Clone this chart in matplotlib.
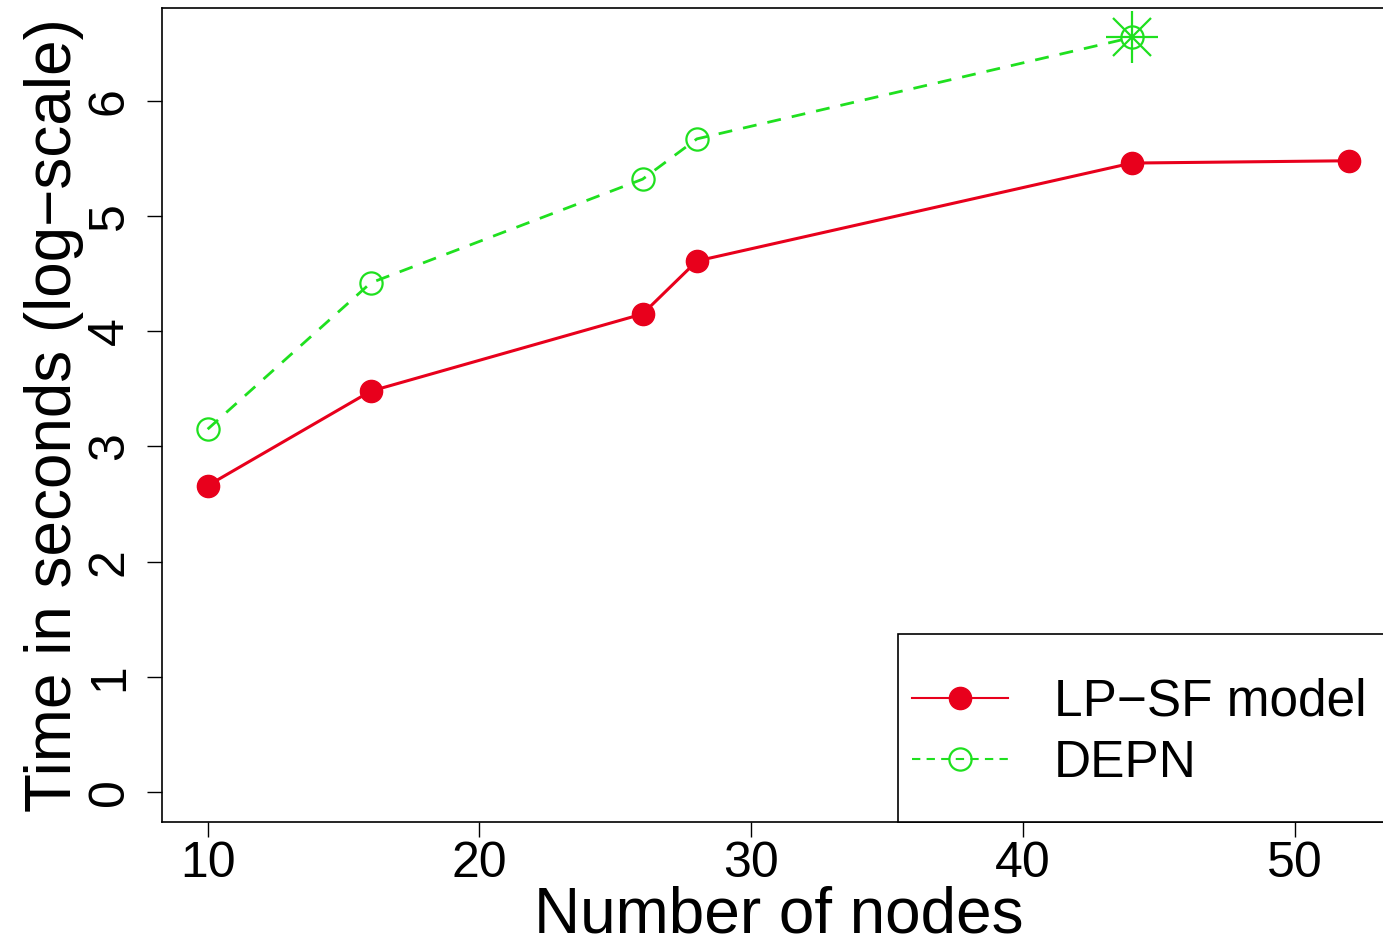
import numpy as np
import matplotlib.pyplot as plt
from matplotlib.lines import Line2D
from matplotlib.patches import Rectangle

# データ
nodes_lpsf = [10, 16, 26, 28, 44, 52]
time_lpsf = [2.66, 3.48, 4.15, 4.61, 5.46, 5.48]
nodes_depn = [10, 16, 26, 28, 44]
time_depn = [3.15, 4.42, 5.32, 5.67, 6.55]
# DEPN の最後の点（打ち切り）
nodes_cut = [44]
time_cut = [6.55]

xticks = [10, 20, 30, 40, 50]
yticks = [0, 1, 2, 3, 4, 5, 6]

RED = '#E8001C'
GREEN = '#1FE01F'

plt.rcParams['font.family'] = ['Liberation Sans', 'DejaVu Sans']

fig = plt.figure(figsize=(13.83, 9.46), dpi=100)
W, H = 1383, 946
left, right, top, bottom = 162, 1395, 8, 822
ax = fig.add_axes([left / W, 1 - bottom / H, (right - left) / W, (bottom - top) / H])

ax.plot(nodes_lpsf, time_lpsf, color=RED, lw=2.2, marker='o', ms=16,
        mfc=RED, mec=RED, label='LP\u2212SF model', clip_on=False)
ax.plot(nodes_depn, time_depn, color=GREEN, lw=2.0, ls=(0, (5, 4)), marker='o', ms=16,
        mfc='none', mec=GREEN, mew=1.6, label='DEPN', clip_on=False)
ax.plot(nodes_cut, time_cut, ls='none', marker='+', ms=37, mec=GREEN, mew=1.6, clip_on=False)
ax.plot(nodes_cut, time_cut, ls='none', marker='x', ms=27, mec=GREEN, mew=1.6, clip_on=False)

ax.set_xlim(8.32, 53.68)
ax.set_ylim(-0.26, 6.806)
ax.set_xticks(xticks)
ax.set_yticks(yticks)

for s in ax.spines.values():
    s.set_linewidth(1.2)
ax.tick_params(axis='both', length=11, width=1.0, labelsize=36)
ax.tick_params(axis='x', pad=3)
ax.tick_params(axis='y', pad=10)
for lab in ax.get_yticklabels():
    lab.set_rotation(90)
    lab.set_va('center')

ax.set_xlabel('Number of nodes', fontsize=46, labelpad=-1.5)
ax.set_ylabel('Time in seconds (log\u2212scale)', fontsize=46, labelpad=2)

# 凡例の枠（右下、軸の下端に接する）
box = Rectangle((898 / W, 1 - 822 / H), (1400 - 898) / W, (822 - 634) / H,
                transform=fig.transFigure, facecolor='white',
                edgecolor='black', lw=1.2, zorder=5, clip_on=False)
ax.add_patch(box)

handles = [
    Line2D([], [], color=RED, lw=1.5, marker='o', ms=16, mfc=RED, mec=RED),
    Line2D([], [], color=GREEN, lw=1.5, ls=(0, (4, 3)), marker='o', ms=16, mfc='none', mec=GREEN, mew=1.6),
]
leg = ax.legend(handles, ['LP\u2212SF model', 'DEPN'], loc='center left',
                bbox_to_anchor=(912 / W, 1 - 733 / H), bbox_transform=fig.transFigure,
                fontsize=37, frameon=False, handlelength=1.86, handletextpad=0.9,
                labelspacing=0.25, borderpad=0, borderaxespad=0)
leg.set_zorder(6)

fig.savefig('out.png', dpi=100)
